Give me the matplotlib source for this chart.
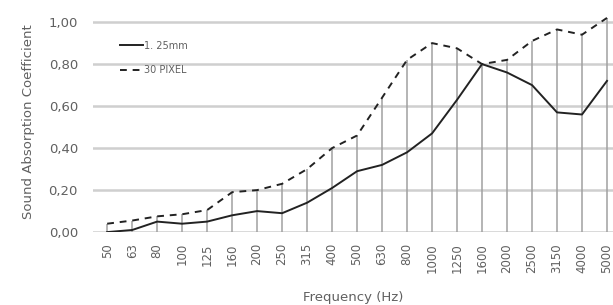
import numpy as np
import matplotlib
matplotlib.use('Agg')
import matplotlib.pyplot as plt

plt.rcParams['font.family'] = ['DejaVu Sans']

freqs = ['50', '63', '80', '100', '125', '160', '200', '250', '315', '400', '500',
         '630', '800', '1000', '1250', '1600', '2000', '2500', '3150', '4000', '5000']
mm125 = [0.00, 0.01, 0.05, 0.04, 0.05, 0.08, 0.10, 0.09, 0.14, 0.21, 0.29,
         0.32, 0.38, 0.47, 0.63, 0.80, 0.76, 0.70, 0.57, 0.56, 0.72]
pixel30 = [0.04, 0.055, 0.075, 0.085, 0.105, 0.19, 0.20, 0.23, 0.30, 0.40, 0.46,
           0.64, 0.82, 0.90, 0.875, 0.80, 0.82, 0.91, 0.965, 0.94, 1.02]
yticks = [0.0, 0.2, 0.4, 0.6, 0.8, 1.0]

grey = '#606060'
fig = plt.figure(figsize=(6.13, 3.05), dpi=100)
ax = fig.add_axes([0.152, 0.239, 0.848, 0.723])

x = np.arange(len(freqs))
for t in yticks:
    ax.axhline(t, color='#cfcfcf', lw=1.8, zorder=1)
top = np.maximum(mm125, pixel30)
ax.vlines(x, 0, top, color='#a0a0a0', lw=1.1, zorder=2)

ax.plot(x, mm125, color='#222222', lw=1.4, label='1. 25mm', zorder=3)
ax.plot(x, pixel30, color='#222222', lw=1.4, ls=(0, (3.5, 3)), label='30 PIXEL', zorder=3)

ax.set_xlim(-0.56, 20.24)
ax.set_ylim(0, 1.05)
ax.set_yticks(yticks)
ax.set_yticklabels([f'{t:.2f}'.replace('.', ',') for t in yticks], color=grey, fontsize=9.5)
ax.set_xticks(x)
ax.set_xticklabels(freqs, rotation=90, color=grey, fontsize=8.5)
ax.tick_params(axis='y', length=0, pad=11)
ax.tick_params(axis='x', length=0, pad=8)
for s in ax.spines.values():
    s.set_visible(False)

ax.set_ylabel('Sound Absorption Coefficient', color=grey, fontsize=9.5, labelpad=10)
ax.set_xlabel('Frequency (Hz)', color=grey, fontsize=9.5, labelpad=13)

leg = ax.legend(loc='upper left', bbox_to_anchor=(115 / 613, 1 - 36 / 305),
                bbox_transform=fig.transFigure, frameon=False, borderpad=0,
                fontsize=7, handlelength=2.4, handletextpad=0.1, labelspacing=1.45)
for t in leg.get_texts():
    t.set_color(grey)

fig.savefig('out.png', dpi=100)
